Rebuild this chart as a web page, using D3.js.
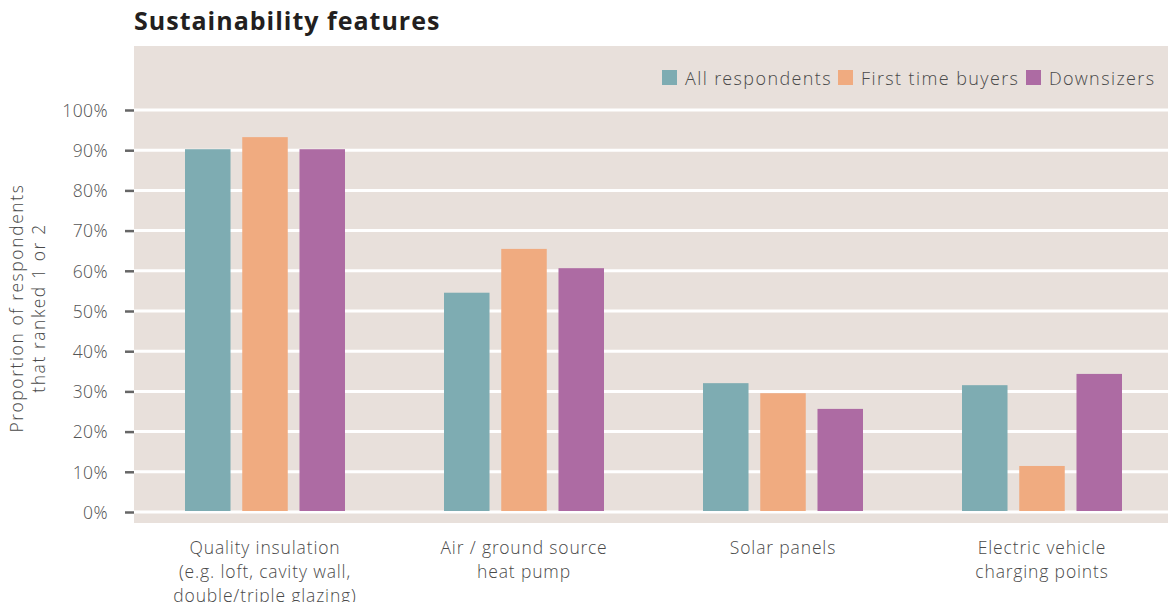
<!DOCTYPE html>
<html><head><meta charset="utf-8">
<script src="https://cdn.jsdelivr.net/npm/d3@7"></script>
<style>
body{margin:0;background:#fff;}
svg text{font-family:"Open Sans Light","Open Sans","Noto Sans",sans-serif;}
svg text.title{font-family:"Open Sans","Noto Sans",sans-serif;}
</style></head>
<body><svg id="c" width="1168" height="602"></svg>
<script>
const categories = [
  ["Quality insulation","(e.g. loft, cavity wall,","double/triple glazing)"],
  ["Air / ground source","heat pump"],
  ["Solar panels"],
  ["Electric vehicle","charging points"]
];
const series = ["All respondents","First time buyers","Downsizers"];
const allRespondents = [90, 54.3, 31.8, 31.3];
const firstTimeBuyers = [93, 65.2, 29.3, 11.2];
const downsizers = [90, 60.4, 25.4, 34.1];
const yTicks = [0,10,20,30,40,50,60,70,80,90,100];
const colors = ["#7eacb2","#f0ab80","#ad6ba3"];

const values = [allRespondents, firstTimeBuyers, downsizers];
const svg = d3.select("#c");

svg.append("rect").attr("x",134).attr("y",46).attr("width",1168-134).attr("height",523-46).attr("fill","#e8e0db");

const x0 = d3.scaleBand().domain(d3.range(categories.length)).range([135.5,1171.5]);
const x1 = d3.scaleBand().domain(series).range([-80,80]).paddingInner(0.205);
const y = d3.scaleLinear().domain([0,100]).range([512,110]);

svg.append("g").selectAll("line").data(yTicks).join("line")
  .attr("x1",134).attr("x2",1168).attr("y1",d=>y(d)).attr("y2",d=>y(d))
  .attr("stroke","#fff").attr("stroke-width",3);

const ax = svg.append("g").attr("transform","translate(134,0)")
  .call(d3.axisLeft(y).tickValues(yTicks).tickSize(9).tickPadding(17).tickFormat(d=>d+"%"));
ax.select(".domain").remove();
ax.selectAll(".tick line").attr("stroke","#666").attr("stroke-width",2.5);
ax.selectAll(".tick text").attr("fill","#555").attr("font-size",17.5).attr("letter-spacing",0.4)
  .attr("font-weight",300).attr("dy","0.36em");

const g = svg.append("g");
categories.forEach((c,i)=>{
  series.forEach((s,j)=>{
    const v = values[j][i];
    g.append("rect")
      .attr("x", x0(i)+x0.bandwidth()/2 + x1(s))
      .attr("width", x1.bandwidth())
      .attr("y", y(v)-1)
      .attr("height", y(0)-y(v))
      .attr("fill", colors[j]);
  });
});

const xl = svg.append("g");
categories.forEach((lines,i)=>{
  const cx = x0(i)+x0.bandwidth()/2;
  const t = xl.append("text").attr("text-anchor","middle")
    .attr("x", cx).attr("y",554).attr("font-weight",300)
    .attr("fill","#4a4a4a").attr("font-size",17.5).attr("letter-spacing",0.85);
  lines.forEach((l,k)=>t.append("tspan").attr("x",cx).attr("dy",k?24:0).text(l));
});

svg.append("text").attr("class","title").attr("x",134).attr("y",30).attr("font-size",25).attr("font-weight",700)
  .attr("letter-spacing",1).attr("fill","#231f20").text("Sustainability features");

const yl = svg.append("text").attr("transform","translate(0,308) rotate(-90)").attr("font-weight",300)
  .attr("text-anchor","middle").attr("fill","#4a4a4a").attr("font-size",17.5).attr("letter-spacing",1.6);
yl.append("tspan").attr("x",0).attr("y",23).text("Proportion of respondents");
yl.append("tspan").attr("x",0).attr("y",45).text("that ranked 1 or 2");

const legX = [662, 838, 1026];
const lg = svg.append("g");
series.forEach((s,j)=>{
  lg.append("rect").attr("x",legX[j]).attr("y",70).attr("width",15).attr("height",15).attr("fill",colors[j]);
  lg.append("text").attr("x",legX[j]+23).attr("y",85).attr("font-size",18).attr("letter-spacing",1.4)
    .attr("font-weight",300).attr("fill","#4a4a4a").text(s);
});
</script></body></html>
